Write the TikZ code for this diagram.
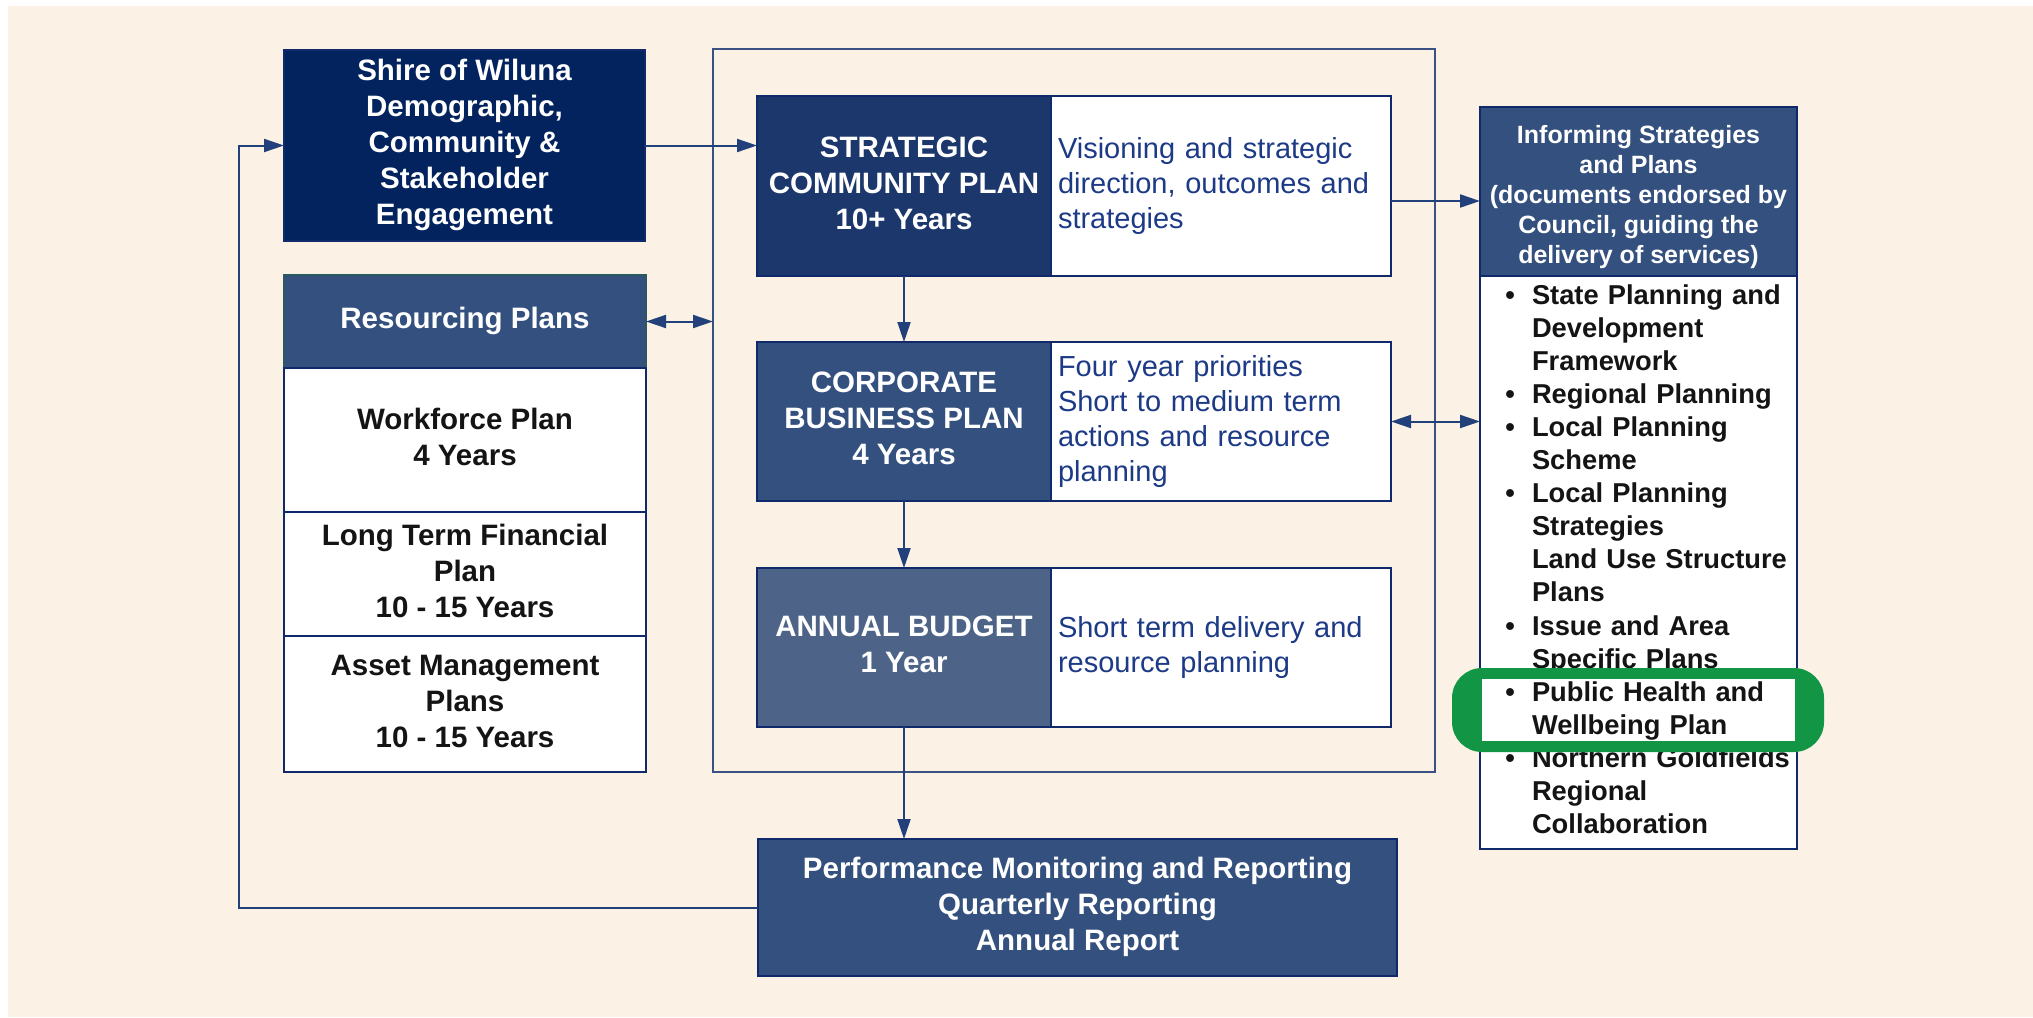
\documentclass[tikz,border=0pt]{standalone}
\usepackage{fontspec}
\setmainfont{Liberation Sans}
\usetikzlibrary{arrows.meta}

\definecolor{paper}{HTML}{FBF2E5}
\definecolor{inkA}{HTML}{02235E}
\definecolor{inkB}{HTML}{1B376B}
\definecolor{inkC}{HTML}{34507E}
\definecolor{inkD}{HTML}{4D6488}
\definecolor{rim}{HTML}{10296A}
\definecolor{tealrim}{HTML}{2A5A60}
\definecolor{wire}{HTML}{22407A}
\definecolor{frameline}{HTML}{3A5283}
\definecolor{desctext}{HTML}{1D3A87}
\definecolor{bodytext}{HTML}{141414}
\definecolor{highlight}{HTML}{129646}

\newcommand{\boxfont}{\bfseries\fontsize{14.75pt}{18pt}\selectfont}
\newcommand{\descfont}{\fontsize{14.5pt}{17.5pt}\selectfont}
\newcommand{\headfont}{\bfseries\fontsize{12.5pt}{15pt}\selectfont}
\newcommand{\listfont}{\bfseries\fontsize{13.65pt}{16.54pt}\selectfont}
\newcommand{\listdot}{\llap{\textbullet\hspace{8.5pt}}}
% tall opening strut for the informing-strategies heading
\newcommand{\headstrut}{\rule{0pt}{14.7pt}}

\begin{document}
\begin{tikzpicture}[x=0.5pt,y=-0.5pt,
  block/.style={draw=rim,line width=1.1pt,anchor=north west,inner sep=0pt,
    outer sep=0pt,align=center,text=white,font=\boxfont},
  darkcell/.style={block,minimum width=147pt},
  desccell/.style={draw=rim,line width=1.1pt,anchor=north west,fill=white,
    text=desctext,font=\descfont,align=left,text width=163pt,
    inner xsep=3.5pt,inner ysep=0pt,outer sep=0pt},
  rescell/.style={block,fill=white,text=bodytext,minimum width=181pt},
  item/.style={anchor=base west,inner sep=0pt,text width=135pt,align=left,
    font=\listfont,text=bodytext},
  link/.style={draw=wire,line width=1pt,-{Triangle[length=10pt,width=6.5pt]}},
  twoway/.style={draw=wire,line width=1pt,
    {Triangle[length=10pt,width=6.5pt]}-{Triangle[length=10pt,width=6.5pt]}},
]
% page and background
\useasboundingbox (0,0) rectangle (2033,1017);
\fill[white] (0,0) rectangle (2033,1017);
\fill[paper] (8,6) rectangle (2033,1017);

% frame around the three core plans
\node[draw=frameline,line width=0.7pt,anchor=north west,inner sep=0pt,outer sep=0pt,
  minimum width=361pt,minimum height=361.5pt] (frame) at (713,49) {};

% engagement
\node[block,fill=inkA,minimum width=180.5pt,minimum height=95.5pt] (shire) at (284,50)
  {\strut Shire of Wiluna\\Demographic,\\Community \&\\Stakeholder\\Engagement\strut};

% resourcing plans column
\node[block,draw=tealrim,fill=inkC,minimum width=181pt,minimum height=46.5pt] (rph) at (284,275)
  {\strut Resourcing Plans\strut};
\node[rescell,minimum height=72pt] (wfp) at (284,368) {\strut Workforce Plan\\4 Years\strut};
\node[rescell,minimum height=62pt] (ltfp) at (284,512) {\strut Long Term Financial\\Plan\\10 - 15 Years\strut};
\node[rescell,minimum height=68pt] (amp) at (284,636) {\strut Asset Management\\Plans\\10 - 15 Years\strut};

% core plans
\node[darkcell,fill=inkB,minimum height=90pt] (scp) at (757,96)
  {\strut STRATEGIC\\COMMUNITY PLAN\\10+ Years\strut};
\node[desccell,minimum height=90pt] (scpd) at (1051,96)
  {Visioning and strategic\\direction, outcomes and\\strategies};

\node[darkcell,fill=inkC,minimum height=79.5pt] (cbp) at (757,342)
  {\strut CORPORATE\\BUSINESS PLAN\\4 Years\strut};
\node[desccell,minimum height=79.5pt] (cbpd) at (1051,342)
  {Four year priorities\\Short to medium term\\actions and resource\\planning};

\node[darkcell,fill=inkD,minimum height=79.5pt] (ab) at (757,568)
  {\strut ANNUAL BUDGET\\1 Year\strut};
\node[desccell,minimum height=79.5pt] (abd) at (1051,568)
  {Short term delivery and\\resource planning};

% reporting
\node[block,fill=inkC,minimum width=319.5pt,minimum height=68.5pt] (perf) at (758,839)
  {\strut Performance Monitoring and Reporting\\Quarterly Reporting\\Annual Report\strut};

% informing strategies
\node[block,fill=inkC,minimum width=158.5pt,minimum height=84.5pt,font=\headfont] (infhead) at (1480,107)
  {\headstrut Informing Strategies\\and Plans\\(documents endorsed by\\Council, guiding the\\delivery of services)};
\node[block,fill=white,minimum width=158.5pt,minimum height=286.5pt] (infbody) at (1480,276) {};

\node[item] (i1) at (1531.6,304) {\listdot State Planning and\\Development\\Framework};
\node[item] (i2) at (1531.6,403.2) {\listdot Regional Planning};
\node[item] (i3) at (1531.6,436.3) {\listdot Local Planning\\Scheme};
\node[item] (i4) at (1531.6,502.5) {\listdot Local Planning\\Strategies\\Land Use Structure\\Plans};
\node[item] (i5) at (1531.6,635.3) {\listdot Issue and Area\\Specific Plans};
\node[item] (i7) at (1531.6,767.6) {\listdot Northern Goldfields\\Regional\\Collaboration};

% highlighted entry
\fill[highlight,rounded corners=15pt] (1452,668) rectangle (1824,752);
\fill[white] (1482,679) rectangle (1795,741);
\node[item] (i6) at (1531.6,701.5) {\listdot Public Health and\\Wellbeing Plan};

% connectors
\coordinate (loopx) at (239,0);
\coordinate (scpout) at ([yshift=-7.5pt]scpd.east);
\draw[link] (shire.east) -- (shire.east -| scp.west);
\draw[link] (scp.south) -- (cbp.north);
\draw[link] (cbp.south) -- (ab.north);
\draw[link] (ab.south) -- (ab.south |- perf.north);
\draw[link] (perf.west) -| (loopx |- shire.west) -- (shire.west);
\draw[link] (scpout) -- (scpout -| infhead.west);
\draw[twoway] (rph.east) -- (rph.east -| frame.west);
\draw[twoway] (cbpd.east) -- (cbpd.east -| infbody.west);
\end{tikzpicture}
\end{document}
